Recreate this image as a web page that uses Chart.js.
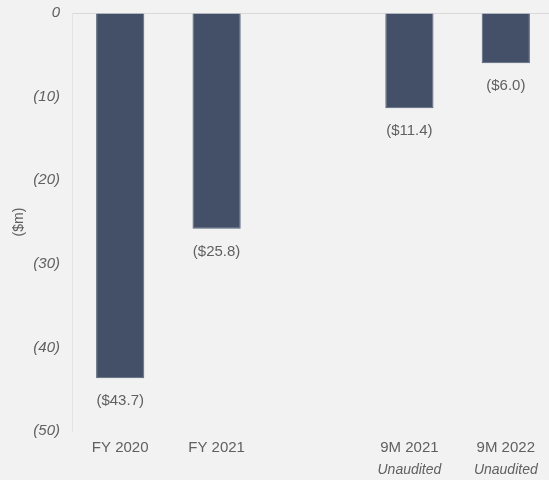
<!DOCTYPE html>
<html>
<head>
<meta charset="utf-8">
<script src="https://cdn.jsdelivr.net/npm/chart.js@4"></script>
<style>
  html, body { margin: 0; padding: 0; background: #f2f2f2; overflow: hidden; }
  #wrap { width: 556px; height: 480px; }
</style>
</head>
<body>
<div id="wrap"><canvas id="lossChart"></canvas></div>
<script>
// periods and net loss ($m); the blank slot keeps the gap between FY and 9M
var periods = ["FY 2020", "FY 2021", "", "9M 2021", "9M 2022"];
var periodNotes = ["", "", "", "Unaudited", "Unaudited"];
var netLoss = [-43.7, -25.8, null, -11.4, -6.0];
var axisTicks = [0, -10, -20, -30, -40, -50];

var textColor = "#606060";
var fontFamily = "'Liberation Sans', Arial, Helvetica, sans-serif";

// value labels under each bar, e.g. ($43.7)
var barLabels = {
    id: "barLabels",
    afterDatasetsDraw: function(chart) {
        var c = chart.ctx;
        var meta = chart.getDatasetMeta(0);
        c.save();
        c.font = "15px " + fontFamily;
        c.fillStyle = textColor;
        c.textAlign = "center";
        c.textBaseline = "middle";
        meta.data.forEach(function(bar, i) {
            var v = netLoss[i];
            if (v === null) return;
            c.fillText("($" + Math.abs(v).toFixed(1) + ")", bar.x, bar.y + 23);
        });
        c.restore();
    }
};

var ctx = document.getElementById("lossChart");

var lossChart = new Chart(ctx, {
    type: "bar",
    data: {
        labels: periods,
        datasets: [{
            data: netLoss,
            backgroundColor: "#435067",
            borderColor: "#56637a",
            borderWidth: 1,
            barPercentage: 1,
            categoryPercentage: 0.5
        }]
    },
    options: {
        responsive: true,
        maintainAspectRatio: false,
        animation: false,
        layout: { padding: { top: 0, right: 2, bottom: 0, left: 0 } },
        plugins: {
            legend: { display: false },
            tooltip: { enabled: false }
        },
        scales: {
            y: {
                min: -50,
                max: 0,
                afterFit: function(scale) { scale.width = 72; },
                afterBuildTicks: function(scale) {
                    scale.ticks = axisTicks.map(function(v) { return { value: v }; });
                },
                ticks: {
                    padding: 4,
                    color: textColor,
                    font: { family: fontFamily, size: 15, style: "italic" },
                    callback: function(v) { return v === 0 ? "0" : "(" + Math.abs(v) + ")"; }
                },
                grid: {
                    drawTicks: true,
                    tickLength: 8,
                    tickColor: "rgba(0,0,0,0)",
                    color: function(c) { return c.tick && c.tick.value === 0 ? "#d9d9d9" : "rgba(0,0,0,0)"; }
                },
                border: { display: true, color: "#e3e3e3" },
                title: {
                    display: true,
                    text: "($m)",
                    color: textColor,
                    font: { family: fontFamily, size: 14 },
                    padding: { top: 11, bottom: 0 }
                }
            },
            x: {
                afterFit: function(scale) { scale.height = 23; },
                ticks: {
                    padding: 0,
                    maxRotation: 0,
                    color: textColor,
                    font: { family: fontFamily, size: 15 }
                },
                grid: { display: false },
                border: { display: false }
            },
            x2: {
                type: "category",
                position: "bottom",
                labels: periodNotes,
                afterFit: function(scale) { scale.height = 26; },
                ticks: {
                    padding: 0,
                    maxRotation: 0,
                    color: textColor,
                    font: { family: fontFamily, size: 14, style: "italic" }
                },
                grid: { display: false },
                border: { display: false }
            }
        }
    },
    plugins: [barLabels]
});
</script>
</body>
</html>
